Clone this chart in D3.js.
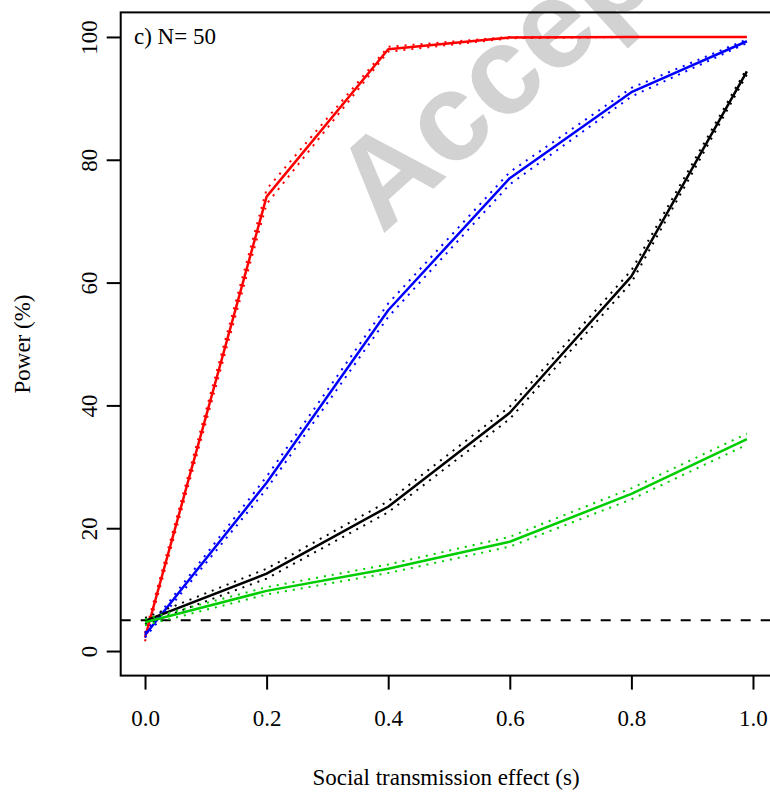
<!DOCTYPE html>
<html>
<head>
<meta charset="utf-8">
<script src="https://cdn.jsdelivr.net/npm/d3@7"></script>
<style>
  html, body { margin: 0; padding: 0; background: #fff; }
  svg { display: block; }
</style>
</head>
<body>
<svg id="chart" width="770" height="793"></svg>
<script>
// ---- data ----
const sValues = [0, 0.2, 0.4, 0.6, 0.8, 0.99];
const xTicks = [0, 0.2, 0.4, 0.6, 0.8, 1.0];
const yTicks = [0, 20, 40, 60, 80, 100];
const alphaLevel = 5;

const redPower   = [2.2, 74.0, 98.0, 99.9, 100, 100];
const redLower   = [1.6, 72.8, 97.6, 99.8, 100, 100];
const redUpper   = [2.9, 75.2, 98.4, 100, 100, 100];

const bluePower  = [2.6, 27.4, 55.5, 77.0, 91.0, 99.3];
const blueLower  = [2.2, 26.4, 54.4, 76.0, 90.3, 99.0];
const blueUpper  = [3.0, 28.4, 56.6, 78.0, 91.7, 99.6];

const blackPower = [4.9, 12.6, 23.5, 38.8, 61.0, 94.4];
const blackLower = [4.4, 11.8, 22.6, 37.8, 60.0, 93.9];
const blackUpper = [5.4, 13.4, 24.4, 39.8, 62.0, 94.9];

const greenPower = [4.7, 9.8, 13.4, 17.8, 25.6, 34.5];
const greenLower = [4.2, 9.2, 12.7, 17.0, 24.7, 33.6];
const greenUpper = [5.2, 10.4, 14.1, 18.6, 26.5, 35.4];

const panelLabel = "c) N= 50";
const xTitle = "Social transmission effect (s)";
const yTitle = "Power (%)";
const watermark = "Accepted";

const series = [
  { color: "#ff0000", power: redPower,   lower: redLower,   upper: redUpper },
  { color: "#0000ff", power: bluePower,  lower: blueLower,  upper: blueUpper },
  { color: "#000000", power: blackPower, lower: blackLower, upper: blackUpper },
  { color: "#00cd00", power: greenPower, lower: greenLower, upper: greenUpper }
];

// ---- layout ----
const SERIF = "'Liberation Serif', 'Times New Roman', serif";
const box = { left: 120.7, right: 777.3, top: 12.4, bottom: 675.6 };
const svg = d3.select("#chart");

const x = d3.scaleLinear().domain([-0.04, 1.04]).range([box.left, box.right]);
const y = d3.scaleLinear().domain([-4, 104]).range([box.bottom, box.top]);

// watermark (behind)
svg.append("text")
  .attr("transform", "translate(382,235) rotate(-42)")
  .style("font-family", "'Liberation Sans', Arial, sans-serif")
  .style("font-weight", "bold")
  .style("font-size", "125px")
  .attr("fill", "#d2d2d2")
  .text(watermark);

// clip
svg.append("defs").append("clipPath").attr("id", "plotclip")
  .append("rect")
  .attr("x", box.left).attr("y", box.top)
  .attr("width", box.right - box.left).attr("height", box.bottom - box.top);

const plot = svg.append("g").attr("clip-path", "url(#plotclip)");

// reference dashed line at 5%
plot.append("line")
  .attr("x1", box.left).attr("x2", box.right)
  .attr("y1", y(alphaLevel)).attr("y2", y(alphaLevel))
  .attr("stroke", "#000").attr("stroke-width", 2)
  .attr("stroke-dasharray", "10,10");

const line = d3.line()
  .x(d => x(d[0]))
  .y(d => y(d[1]));

series.forEach(s => {
  const pts = v => sValues.map((sv, i) => [sv, v[i]]);
  [s.lower, s.upper].forEach(b => {
    plot.append("path")
      .attr("d", line(pts(b)))
      .attr("fill", "none")
      .attr("stroke", s.color)
      .attr("stroke-width", 2)
      .attr("stroke-dasharray", "2,6");
  });
  plot.append("path")
    .attr("d", line(pts(s.power)))
    .attr("fill", "none")
    .attr("stroke", s.color)
    .attr("stroke-width", 2.5)
    .attr("stroke-linejoin", "round");
});

// box
svg.append("rect")
  .attr("x", box.left).attr("y", box.top)
  .attr("width", box.right - box.left).attr("height", box.bottom - box.top)
  .attr("fill", "none").attr("stroke", "#000").attr("stroke-width", 2);

// axes
const fontSize = 23;
const xAxis = d3.axisBottom(x).tickValues(xTicks).tickFormat(d3.format(".1f"))
  .tickSize(14).tickPadding(20);
const gx = svg.append("g").attr("transform", `translate(0,${box.bottom})`).call(xAxis);
gx.select(".domain").remove();
gx.selectAll(".tick line").attr("stroke", "#000").attr("stroke-width", 2);
gx.selectAll(".tick text")
  .style("font-size", fontSize + "px")
  .style("font-family", SERIF)
  .attr("fill", "#000");

const yAxis = d3.axisLeft(y).tickValues(yTicks).tickFormat(d3.format("d")).tickSize(14);
const gy = svg.append("g").attr("transform", `translate(${box.left},0)`).call(yAxis);
gy.select(".domain").remove();
gy.selectAll(".tick line").attr("stroke", "#000").attr("stroke-width", 2);
gy.selectAll(".tick text")
  .attr("x", null).attr("dy", null)
  .style("font-size", fontSize + "px")
  .style("font-family", SERIF)
  .attr("fill", "#000")
  .attr("text-anchor", "middle")
  .attr("transform", "translate(-24,0) rotate(-90)");

// titles
svg.append("text")
  .attr("x", (box.left + box.right) / 2 - 3).attr("y", 785)
  .attr("text-anchor", "middle")
  .style("font-size", fontSize + "px")
  .style("font-family", SERIF)
  .text(xTitle);

svg.append("text")
  .attr("transform", `translate(30,${(box.top + box.bottom) / 2}) rotate(-90)`)
  .attr("text-anchor", "middle")
  .style("font-size", fontSize + "px")
  .style("font-family", SERIF)
  .text(yTitle);

svg.append("text")
  .attr("x", 134).attr("y", 44)
  .style("font-size", fontSize + "px")
  .style("font-family", SERIF)
  .text(panelLabel);
</script>
</body>
</html>
